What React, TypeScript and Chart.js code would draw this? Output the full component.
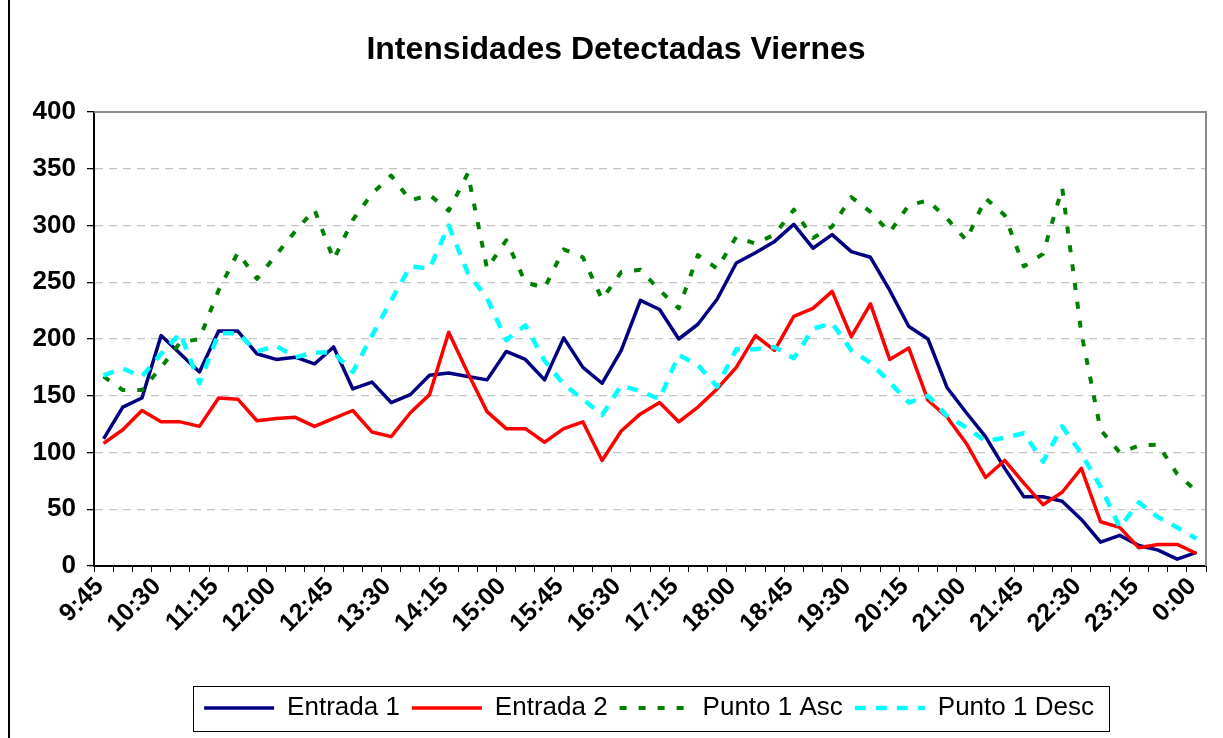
import React, { useEffect, useRef } from 'react';
import { Chart, registerables } from 'chart.js';

Chart.register(...registerables);

const categories = [
  '9:45', '10:00', '10:15', '10:30', '10:45', '11:00', '11:15', '11:30', '11:45',
  '12:00', '12:15', '12:30', '12:45', '13:00', '13:15', '13:30', '13:45',
  '14:00', '14:15', '14:30', '14:45', '15:00', '15:15', '15:30', '15:45',
  '16:00', '16:15', '16:30', '16:45', '17:00', '17:15', '17:30', '17:45',
  '18:00', '18:15', '18:30', '18:45', '19:00', '19:15', '19:30', '19:45',
  '20:00', '20:15', '20:30', '20:45', '21:00', '21:15', '21:30', '21:45',
  '22:00', '22:15', '22:30', '22:45', '23:00', '23:15', '23:30', '23:45', '0:00',
];

const shownLabels = [
  '9:45', '10:30', '11:15', '12:00', '12:45', '13:30', '14:15', '15:00', '15:45', '16:30',
  '17:15', '18:00', '18:45', '19:30', '20:15', '21:00', '21:45', '22:30', '23:15', '0:00',
];

const entrada1 = [
  112, 140, 148, 203, 187, 171, 207, 207, 187, 182, 184, 178, 193, 156, 162, 144, 151, 168, 170, 167,
  164, 189, 182, 164, 201, 175, 161, 190, 234, 226, 200, 213, 235, 267, 276, 286, 301, 280, 292, 277,
  272, 243, 211, 200, 157, 135, 114, 86, 61, 61, 57, 41, 21, 27, 18, 14, 6, 12,
];

const entrada2 = [
  108, 120, 137, 127, 127, 123, 148, 147, 128, 130, 131, 123, 130, 137, 118, 114, 135, 151, 206, 170,
  136, 121, 121, 109, 121, 127, 93, 119, 134, 144, 127, 140, 156, 175, 203, 190, 220, 227, 242, 202,
  231, 182, 192, 146, 131, 108, 78, 93, 73, 54, 65, 86, 39, 34, 16, 19, 19, 11,
];

const punto1Asc = [
  167, 155, 155, 175, 197, 200, 243, 276, 253, 274, 295, 314, 270, 305, 328, 344, 322, 327, 313, 346,
  262, 287, 250, 245, 279, 272, 235, 259, 261, 243, 227, 274, 262, 290, 284, 292, 314, 289, 299, 325,
  312, 294, 318, 322, 306, 287, 324, 309, 264, 275, 333, 205, 120, 100, 106, 107, 81, 66,
];

const punto1Desc = [
  168, 174, 167, 187, 205, 161, 205, 205, 189, 194, 184, 188, 188, 171, 203, 234, 264, 262, 300, 258,
  236, 199, 212, 181, 160, 147, 133, 159, 154, 147, 186, 177, 158, 191, 191, 193, 183, 209, 214, 190,
  179, 162, 144, 150, 132, 122, 110, 113, 117, 92, 123, 99, 70, 34, 56, 43, 34, 24,
];

const FONT = "'Liberation Sans', Arial, Helvetica, sans-serif";

export default function App() {
  const ref = useRef<HTMLCanvasElement>(null);

  useEffect(() => {
    const canvas = ref.current;
    if (!canvas) return;

    const decor = {
      id: 'decor',
      afterLayout(chart: any) {
        const lg = chart.legend;
        if (lg) {
          lg.left += 33;
          lg.right += 33;
        }
      },
      beforeDatasetsDraw(chart: any) {
        const { ctx, chartArea } = chart;
        ctx.save();
        ctx.strokeStyle = '#8c8c8c';
        ctx.lineWidth = 2;
        ctx.beginPath();
        ctx.moveTo(chartArea.left, chartArea.top);
        ctx.lineTo(chartArea.right, chartArea.top);
        ctx.lineTo(chartArea.right, chartArea.bottom);
        ctx.stroke();
        ctx.restore();
      },
      afterDraw(chart: any) {
        const { ctx } = chart;
        const lg = chart.legend;
        ctx.save();
        if (lg && lg.legendHitBoxes && lg.legendHitBoxes.length) {
          const hb = lg.legendHitBoxes;
          const last = hb[hb.length - 1];
          const x0 = hb[0].left - 11;
          const x1 = last.left + last.width + 15;
          const y0 = lg.top + 3;
          const y1 = lg.bottom;
          ctx.strokeStyle = '#000';
          ctx.lineWidth = 1;
          ctx.strokeRect(Math.round(x0) + 0.5, Math.round(y0) + 0.5, Math.round(x1 - x0), Math.round(y1 - y0));
        }
        ctx.strokeStyle = '#000';
        ctx.lineWidth = 2;
        ctx.beginPath();
        ctx.moveTo(9, 0);
        ctx.lineTo(9, chart.height);
        ctx.stroke();
        ctx.restore();
      },
    };

    const chart = new Chart(canvas, {
      type: 'line',
      data: {
        labels: categories,
        datasets: [
          {
            label: 'Entrada 1',
            data: entrada1,
            borderColor: '#000080',
            backgroundColor: '#000080',
            borderWidth: 3.5,
            order: 3,
          },
          {
            label: 'Entrada 2',
            data: entrada2,
            borderColor: '#ff0000',
            backgroundColor: '#ff0000',
            borderWidth: 3.5,
            order: 2,
          },
          {
            label: 'Punto 1 Asc',
            data: punto1Asc,
            borderColor: '#008000',
            backgroundColor: '#008000',
            borderWidth: 4,
            borderDash: [7, 12],
            order: 1,
          },
          {
            label: 'Punto 1 Desc',
            data: punto1Desc,
            borderColor: '#00ffff',
            backgroundColor: '#00ffff',
            borderWidth: 4.5,
            borderDash: [11, 10],
            order: 0,
          },
        ],
      },
      options: {
        responsive: false,
        animation: false,
        devicePixelRatio: 1,
        layout: { padding: { top: 11.6, left: 26, right: 17, bottom: 7 } },
        elements: {
          point: { radius: 0, hoverRadius: 0 },
          line: { tension: 0, borderJoinStyle: 'round', borderCapStyle: 'butt', fill: false },
        },
        plugins: {
          title: {
            display: true,
            text: 'Intensidades Detectadas Viernes',
            color: '#000',
            font: { family: FONT, size: 32, weight: 'bold' },
            padding: { top: 19, bottom: 43 },
          },
          legend: {
            display: true,
            position: 'bottom',
            labels: {
              usePointStyle: true,
              pointStyle: 'line',
              pointStyleWidth: 70,
              color: '#000',
              font: { family: FONT, size: 26 },
              padding: 12,
              sort: (a: any, b: any) => a.datasetIndex - b.datasetIndex,
              generateLabels: (chart: any) => {
                const items = (Chart.defaults as any).plugins.legend.labels.generateLabels(chart);
                items.forEach((it: any) => {
                  const ds = chart.data.datasets[it.datasetIndex];
                  it.lineDash = ds.borderDash || [];
                  it.lineWidth = ds.borderWidth;
                  it.strokeStyle = ds.borderColor;
                  it.fillStyle = ds.borderColor;
                  it.lineCap = 'butt';
                });
                return items;
              },
            },
          },
          tooltip: { enabled: false },
        },
        scales: {
          x: {
            type: 'category',
            offset: true,
            ticks: {
              autoSkip: false,
              minRotation: 45,
              maxRotation: 45,
              color: '#000',
              padding: 0,
              labelOffset: -4,
              font: { family: FONT, size: 25, weight: 'bold' },
              callback: (_v: any, idx: number) => {
                const lab = categories[idx];
                return shownLabels.includes(lab) ? lab : '';
              },
            },
            grid: {
              offset: true,
              drawOnChartArea: false,
              drawTicks: true,
              tickLength: 6,
              color: '#000',
              tickColor: '#000',
            },
            border: { display: true, color: '#000', width: 2 },
            afterFit: (s: any) => {
              s.height = 117;
            },
          },
          y: {
            min: 0,
            max: 400,
            ticks: {
              stepSize: 50,
              color: '#000',
              padding: 11,
              font: { family: FONT, size: 26, weight: 'bold' },
            },
            grid: {
              color: (c: any) =>
                c.tick && (c.tick.value === 0 || c.tick.value === 400) ? 'rgba(0,0,0,0)' : '#c4c4c4',
              lineWidth: 1.3,
              tickColor: '#000',
              tickLength: 7,
              tickBorderDash: [],
              tickWidth: 1.3,
            },
            border: { display: true, color: '#000', width: 2, dash: [8, 6] },
            afterFit: (s: any) => {
              s.width = 68;
            },
          },
        },
      },
      plugins: [decor],
    } as any);

    return () => chart.destroy();
  }, []);

  return (
    <div
      style={{
        position: 'fixed',
        left: 0,
        top: 0,
        width: 1223,
        height: 738,
        background: '#fff',
      }}
    >
      <canvas ref={ref} width={1223} height={738} style={{ display: 'block' }} />
    </div>
  );
}
